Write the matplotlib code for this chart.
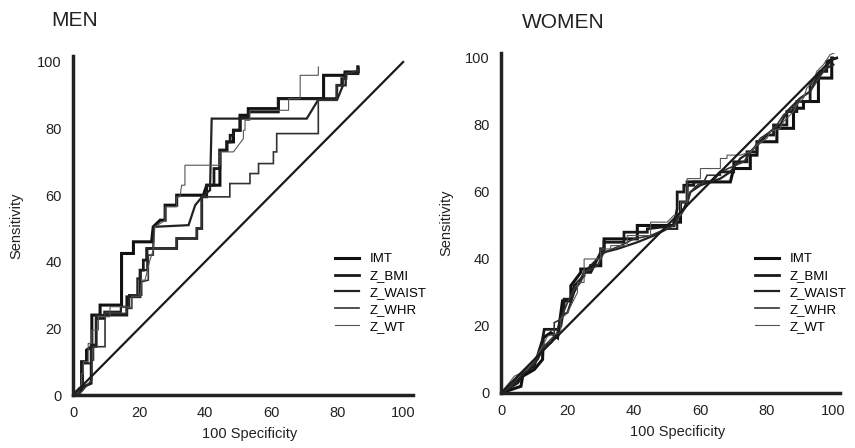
import numpy as np
import matplotlib.pyplot as plt

plt.rcParams['font.family'] = ['Liberation Sans', 'DejaVu Sans']

labels = ['IMT', 'Z_BMI', 'Z_WAIST', 'Z_WHR', 'Z_WT']
widths = [2.2, 2.0, 1.6, 1.2, 0.8]
colors = ['#111111', '#1a1a1a', '#222222', '#333333', '#555555']
ticks = [0, 20, 40, 60, 80, 100]
diag = [0, 100]

# MEN (left panel), step curves as (x, y) vertices
men_imt_x = [0, 2.6, 2.6, 4.1, 4.1, 5.7, 5.7, 8.2, 8.2, 14.7, 14.7, 18.3, 18.3, 23.8, 24.3, 26.4, 27.9, 27.9, 31.4,
             31.4, 39.5, 40.5, 44.5, 44.5, 46.6, 46.6, 48.6, 48.6, 50.6, 50.6, 53.1, 53.1, 62.2, 62.2, 75.9, 75.9,
             82.4, 82.4, 86.3, 86.3]
men_imt_y = [0, 1.5, 10, 10, 13.5, 14.5, 24, 24, 27, 27, 42.5, 42.5, 46, 46, 50.5, 52.5, 52.5, 57, 57,
             60, 60, 63, 63, 73.5, 73.5, 76, 76, 79.5, 79.5, 84, 84, 86, 86, 89, 89, 96,
             96, 97, 97, 98.5]
men_bmi_x = [0, 2, 5.5, 5.5, 7, 7, 9.5, 9.5, 16.3, 16.3, 20.3, 20.3, 21.3, 21.3, 22.3, 22.3, 31.4, 31.4, 37.5, 37.5,
             39, 39, 40.5, 40.5, 42.7, 42.7, 44.5, 44.5, 46.6, 46.6, 47.6, 47.6, 48.6, 48.6, 50.6, 50.6, 53.1, 53.1,
             62.2, 62.2, 79.9, 79.9, 81.4, 81.4, 82.4, 82.4, 86.3, 86.3]
men_bmi_y = [0, 2, 3.5, 15, 15, 23, 23, 24, 24, 29.5, 29.5, 37.5, 37.5, 40.5, 40.5, 44, 44, 47, 47, 50,
             50, 59.5, 59.5, 63, 63, 68, 68, 73.5, 73.5, 76, 76, 78, 78, 79.5, 79.5, 83.5, 83.5, 85,
             85, 89, 89, 93, 93, 95, 95, 96.5, 96.5, 98.5]
men_waist_x = [0, 1.5, 3, 3, 5.5, 5.5, 7, 7, 9.5, 9.5, 14.5, 14.5, 17, 17, 19.5, 19.5, 20.5, 20.5, 22.5, 22.5,
               24.3, 24.5, 35, 37, 39.5, 41.5, 42, 70.8, 74.3, 80, 81.8, 82.6, 82.6, 86.5, 86.5]
men_waist_y = [0, 1, 3, 9.5, 9.5, 14.5, 14.5, 24, 24, 25, 25, 26.5, 26.5, 30, 30, 35, 35, 37.5, 37.5, 44,
               44, 50.5, 51, 57, 60, 61.5, 83, 83, 88.7, 88.7, 93, 93, 96.5, 97, 98]
men_whr_x = [0, 2.1, 5.7, 5.7, 6.2, 6.2, 9.7, 9.7, 16.2, 16.2, 17.8, 17.8, 20.8, 20.8, 22.8, 22.8, 24.3, 24.3,
             31.4, 31.4, 37.5, 37.5, 39, 39, 47.5, 47.5, 53.6, 53.6, 56.2, 56.2, 60.7, 60.7, 61.7, 61.7, 74.3, 74.3,
             79.9, 79.9, 81.9, 81.9, 82.9, 82.9, 86.5]
men_whr_y = [0, 0.5, 4.5, 10.5, 10.5, 14.5, 14.5, 24.5, 24.5, 26, 26, 30, 30, 34, 34.5, 42, 42, 44,
             44, 47, 47, 50, 50, 59.5, 59.5, 63.5, 63.5, 66.5, 66.5, 69.5, 69.5, 73, 73, 78.5, 78.5, 88.5,
             88.5, 93, 93, 95, 95, 96.5, 97.5]
men_wt_x = [0, 1.6, 2.6, 2.6, 3.1, 3.1, 4.6, 4.6, 5.7, 5.7, 7.7, 7.7, 11.2, 11.2, 17.8, 17.8, 20.3, 20.8, 21.8,
            23.3, 24.3, 24.8, 26.4, 27.9, 27.9, 31.4, 31.4, 32.4, 32.9, 33.9, 33.9, 44.5, 44.5, 48.6, 51.6, 51.6,
            52.1, 52.1, 53.6, 53.6, 65.3, 65.3, 68.8, 68.8, 74.3, 74.3]
men_wt_y = [0, 1, 3.5, 6.5, 6.5, 10, 10, 15.5, 15.5, 19.5, 19.5, 23.5, 23.5, 26.5, 26.5, 29.5, 29.5, 34.5, 34.5,
            40.5, 43.5, 50.5, 51.5, 52.5, 56.5, 56.5, 59.5, 59.5, 63, 63, 69, 69, 73, 73, 77, 79.5,
            79.5, 82.5, 82.5, 85.5, 85.5, 89, 89, 96, 96, 98.5]

# WOMEN (right panel)
women_imt_x = [0, 6, 6.5, 10, 12.5, 12.7, 15, 17, 18.5, 21, 21, 24, 24, 27, 27, 30, 30, 31, 31, 41, 41, 52, 52,
               54, 54, 56, 56, 69, 70, 75, 75, 77, 77, 83, 83, 88, 88, 91, 91, 95.5, 95.5, 99.5, 99.5]
women_imt_y = [0, 2, 5, 7, 10, 16.5, 18, 16.5, 27.5, 27.5, 32, 36, 37, 37, 38, 38, 43, 43, 46, 46, 50, 50, 51,
               51, 57, 57, 63, 63, 67, 67, 71, 71, 75, 75, 79, 79, 85, 85, 87, 87, 94, 94, 100]
women_bmi_x = [0, 5, 7, 10, 12.5, 13, 17, 18, 19, 19, 21, 22, 25, 25, 27, 29, 30, 31, 31, 37, 37, 44, 44, 52,
               53, 53, 55, 55, 58, 58, 63, 66, 70, 70, 74, 74, 77, 77, 80, 82, 82, 86, 86, 89, 89, 93, 93, 96,
               98, 98, 101]
women_bmi_y = [0, 3, 6, 8, 16, 19, 19, 20, 26, 28, 28, 32, 35, 36, 36, 40, 42, 42, 45, 45, 48, 48, 49, 50,
               55, 60, 60, 62, 62, 63, 63, 66, 66, 69, 69, 72, 72, 74, 77, 77, 80, 80, 84, 84, 87, 87, 92, 96,
               96, 99, 100]
women_waist_x = [0, 4, 8, 11, 13, 15, 17, 18, 20, 22, 24, 25, 27, 29, 31, 35, 41, 46, 50, 53, 53, 55, 57, 60,
                 63, 66, 69, 72, 75, 78, 81, 84, 86, 88, 90, 93, 95, 98, 100]
women_waist_y = [0, 3, 7, 10, 14, 15, 18, 23, 24, 30, 34, 36, 38, 40, 42, 43, 45, 47, 49, 49, 52, 55, 60, 62,
                 63, 64, 66, 70, 72, 75, 78, 80, 84, 86, 88, 90, 94, 97, 98]
women_whr_x = [0, 3, 5, 10, 12, 14, 16, 16, 18, 20, 22, 24, 25, 29, 31, 36, 40, 45, 52, 54, 56, 57, 59, 61, 62,
               66, 66, 73, 76, 78, 81, 83, 85, 88, 90, 93, 95, 97, 100]
women_whr_y = [0, 2, 5, 9, 13, 15, 17, 21, 22, 27, 31, 33, 36, 38, 42, 44, 46, 47, 50, 53, 56, 60, 62, 63, 65,
               65, 66, 69, 73, 76, 78, 80, 83, 85, 88, 90, 93, 96, 100]
women_wt_x = [0, 4, 8, 12, 14, 18, 18, 20, 23, 23, 25, 25, 30, 30, 33, 33, 38, 38, 45, 45, 50, 52, 54, 54, 56,
              56, 60, 60, 66, 66, 68, 68, 72, 75, 77, 80, 81, 84, 85, 88, 89, 91, 92, 94, 95, 97, 99, 101.5]
women_wt_y = [0, 5, 7, 13, 17, 18, 22, 24, 30, 33, 33, 40, 40, 43, 43, 44, 44, 47, 47, 51, 51, 53, 53, 57, 57,
              64, 64, 67, 67, 70, 70, 71, 71, 72, 74, 76, 78, 79, 81, 84, 86, 88, 91, 93, 96, 98, 101, 102]

men = [(men_imt_x, men_imt_y), (men_bmi_x, men_bmi_y), (men_waist_x, men_waist_y),
       (men_whr_x, men_whr_y), (men_wt_x, men_wt_y)]
women = [(women_imt_x, women_imt_y), (women_bmi_x, women_bmi_y), (women_waist_x, women_waist_y),
         (women_whr_x, women_whr_y), (women_wt_x, women_wt_y)]

fig = plt.figure(figsize=(8.55, 4.48), dpi=100)
ax1 = fig.add_axes([0.0854, 0.1183, 0.3977, 0.7567])
ax2 = fig.add_axes([0.586, 0.1228, 0.3965, 0.759])


def panel(ax, curves, xmax, ymax, leg_x):
    for (x, y), lab, lw, c in zip(curves, labels, widths, colors):
        ax.plot(x, y, color=c, lw=lw, label=lab, solid_joinstyle='miter')
    ax.plot(diag, diag, color='#1a1a1a', lw=1.6)
    ax.set_xlim(0, xmax)
    ax.set_ylim(0, ymax)
    ax.set_xticks(ticks)
    ax.set_yticks(ticks)
    ax.tick_params(length=0, labelsize=10.5, pad=8, colors='#222222')
    for s in ['top', 'right']:
        ax.spines[s].set_visible(False)
    for s in ['left', 'bottom']:
        ax.spines[s].set_linewidth(2.5)
        ax.spines[s].set_color('#222222')
    ax.set_xlabel('100 Specificity', fontsize=10.5, color='#222222')
    ax.xaxis.set_label_coords(0.52, -0.095)
    ax.set_ylabel('Sensitivity', fontsize=10.5, color='#222222')
    ax.legend(loc='upper left', bbox_to_anchor=(leg_x, 0.435), bbox_transform=fig.transFigure,
              frameon=False, fontsize=9.5, handlelength=1.8, handletextpad=0.8, labelspacing=0.35,
              borderpad=0, borderaxespad=0)


panel(ax1, men, 103, 101.8, 0.392)
ax1.yaxis.set_label_coords(-0.145, 0.5)
panel(ax2, women, 102, 101.5, 0.883)
ax2.yaxis.set_label_coords(-0.14, 0.5)

fig.text(51 / 855, 1 - 20 / 448, 'MEN', fontsize=15, va='center', ha='left', color='#222222')
fig.text(522 / 855, 1 - 22 / 448, 'WOMEN', fontsize=15, va='center', ha='left', color='#222222')

fig.savefig('out.png', dpi=100)
